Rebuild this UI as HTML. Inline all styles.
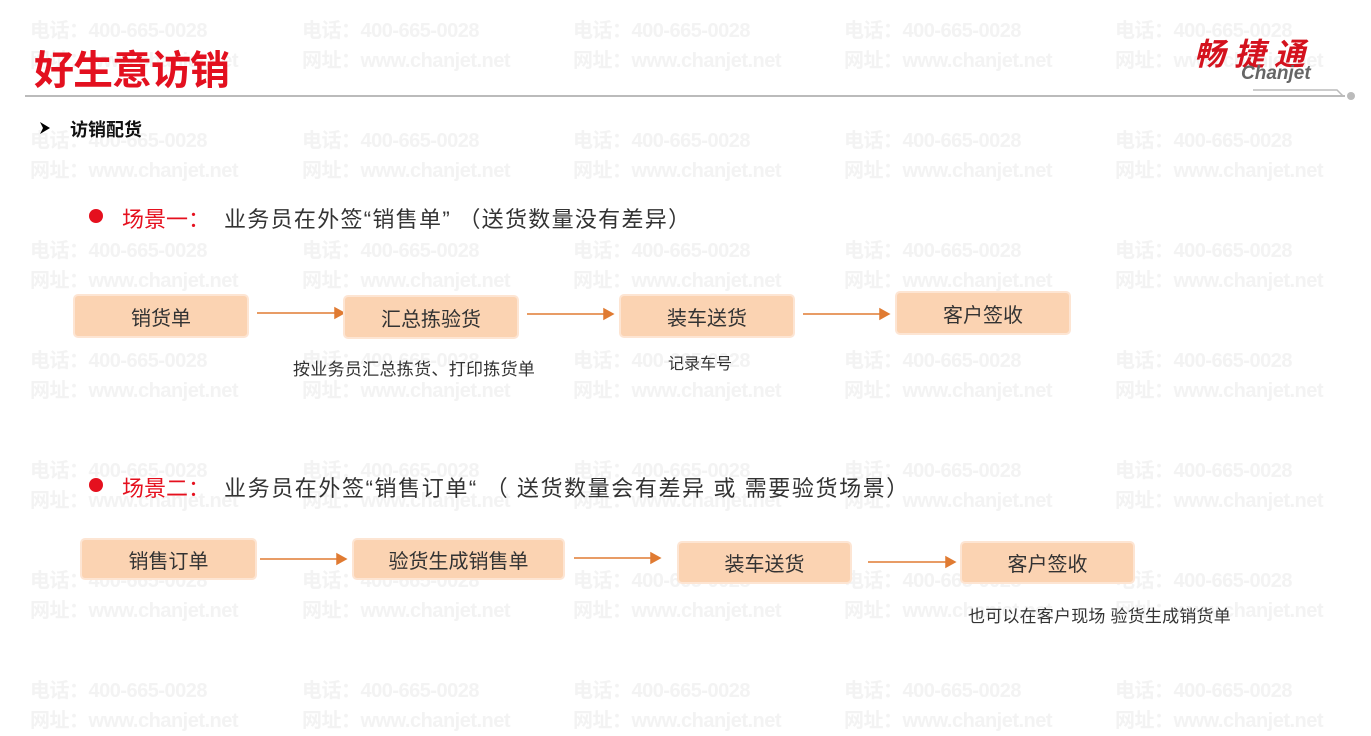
<!DOCTYPE html>
<html><head><meta charset="utf-8"><style>
body{margin:0;width:1371px;height:712px;position:relative;background:#fff;overflow:hidden;font-family:"Liberation Sans","Noto Sans CJK SC",sans-serif;}
.wm{position:absolute;color:#f3f3f3;font-size:20px;font-weight:bold;line-height:30px;white-space:nowrap;letter-spacing:-0.5px}
.box{position:absolute;background:#fbd3b2;border:2px solid #fde5d3;border-radius:5px;box-sizing:border-box;display:flex;align-items:center;justify-content:center;font-size:20px;color:#333;}
.t{position:absolute;white-space:nowrap;}
svg{position:absolute;left:0;top:0;}
</style></head><body>
<div id="wms"></div>
<script>
var h='';var xs=[30,302,573,844,1115],ys=[16,126,236,346,456,566,676];
ys.forEach(function(y){xs.forEach(function(x){h+='<div class="wm" style="left:'+x+'px;top:'+y+'px">电话：400-665-0028<br>网址：www.chanjet.net</div>';});});
document.getElementById('wms').innerHTML=h;
</script>
<div class="t" style="left:34px;top:38px;font-size:40px;font-weight:bold;color:#e3101f;letter-spacing:-1px">好生意访销</div>
<div class="t" style="left:1194px;top:29px;font-size:31px;font-weight:bold;font-style:italic;color:#d4121e;letter-spacing:9px">畅捷通</div>
<div class="t" style="left:1241px;top:63px;font-size:19px;font-style:italic;font-weight:bold;color:#666">Chanjet</div>
<svg width="1371" height="712">
<line x1="25" y1="96" x2="1345" y2="96" stroke="#bbb" stroke-width="2"/>
<polyline points="1253,90 1337,90 1343,96" fill="none" stroke="#bbb" stroke-width="1.5"/>
<circle cx="1351" cy="96" r="4" fill="#bbb"/>
<polygon points="40,122 50,128 40,134 43,128" fill="#000"/>
<g stroke="#e07b32" stroke-width="1.5" fill="#e07b32">
<line x1="257" y1="313" x2="336" y2="313"/><polygon points="335,308 344,313 335,318"/>
<line x1="527" y1="314" x2="605" y2="314"/><polygon points="604,309 613,314 604,319"/>
<line x1="803" y1="314" x2="881" y2="314"/><polygon points="880,309 889,314 880,319"/>
<line x1="260" y1="559" x2="338" y2="559"/><polygon points="337,554 346,559 337,564"/>
<line x1="574" y1="558" x2="652" y2="558"/><polygon points="651,553 660,558 651,563"/>
<line x1="868" y1="562" x2="947" y2="562"/><polygon points="946,557 955,562 946,567"/>
</g>
<circle cx="96" cy="216" r="7" fill="#e5101e"/>
<circle cx="96" cy="485" r="7" fill="#e5101e"/>
</svg>
<div class="t" style="left:70px;top:116px;font-size:18px;font-weight:bold;color:#111">访销配货</div>
<div class="t" style="left:122px;top:202px;font-size:22px;color:#e5101e">场景一：</div>
<div class="t" style="left:224px;top:202px;font-size:22px;color:#333;letter-spacing:1.3px">业务员在外签“销售单” （送货数量没有差异）</div>
<div class="t" style="left:122px;top:471px;font-size:22px;color:#e5101e">场景二：</div>
<div class="t" style="left:224px;top:471px;font-size:22px;color:#333;letter-spacing:1.6px">业务员在外签“销售订单“ （ 送货数量会有差异 或 需要验货场景）</div>
<div class="box" style="left:73px;top:294px;width:176px;height:44px">销货单</div>
<div class="box" style="left:343px;top:295px;width:176px;height:44px">汇总拣验货</div>
<div class="box" style="left:619px;top:294px;width:176px;height:44px">装车送货</div>
<div class="box" style="left:895px;top:291px;width:176px;height:44px">客户签收</div>
<div class="t" style="left:293px;top:355px;font-size:17px;color:#333;letter-spacing:0.3px">按业务员汇总拣货、打印拣货单</div>
<div class="t" style="left:668px;top:350px;font-size:16px;color:#333">记录车号</div>
<div class="box" style="left:80px;top:538px;width:177px;height:42px">销售订单</div>
<div class="box" style="left:352px;top:538px;width:213px;height:42px">验货生成销售单</div>
<div class="box" style="left:677px;top:541px;width:175px;height:43px">装车送货</div>
<div class="box" style="left:960px;top:541px;width:175px;height:43px">客户签收</div>
<div class="t" style="left:968px;top:602px;font-size:17px;color:#333;letter-spacing:0.2px">也可以在客户现场 验货生成销货单</div>
</body></html>
